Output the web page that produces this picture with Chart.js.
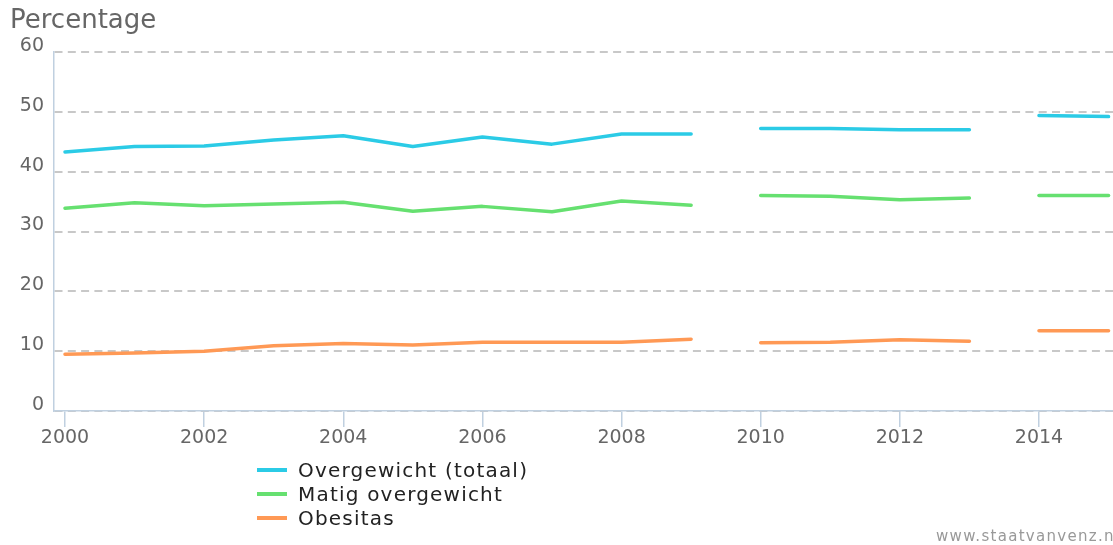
<!DOCTYPE html>
<html>
<head>
<meta charset="utf-8">
<script src="https://cdn.jsdelivr.net/npm/chart.js@4/dist/chart.umd.min.js"></script>
<style>
  html, body { margin: 0; padding: 0; background: #fff; overflow: hidden; }
  #wrap { position: relative; width: 1113px; height: 545px; }
  #legend { position: absolute; left: 257px; top: 458px; font-family: 'DejaVu Sans', sans-serif; font-size: 20px; letter-spacing: 1.2px; color: #222; }
  .row { display: flex; align-items: center; height: 24px; white-space: nowrap; }
  .swatch { width: 30px; height: 3.5px; margin-right: 11px; }
  #credits { position: absolute; left: 936px; top: 527px; font-family: 'DejaVu Sans', sans-serif; font-size: 15px; letter-spacing: 1.3px; color: #999; white-space: nowrap; }
</style>
</head>
<body>
<div id="wrap">
  <canvas id="chart" width="1113" height="545"></canvas>
  <div id="legend"></div>
  <div id="credits">www.staatvanvenz.nl</div>
</div>
<script>
const years = [2000, 2001, 2002, 2003, 2004, 2005, 2006, 2007, 2008, 2009, 2010, 2011, 2012, 2013, 2014, 2015];
const overgewicht = [43.3, 44.2, 44.3, 45.3, 46.0, 44.2, 45.8, 44.6, 46.3, 46.3, 47.2, 47.2, 47.0, 47.0, 49.4, 49.2];
const matigOvergewicht = [33.9, 34.8, 34.3, 34.6, 34.9, 33.4, 34.2, 33.3, 35.1, 34.4, 36.0, 35.9, 35.3, 35.6, 36.0, 36.0];
const obesitas = [9.5, 9.7, 10.0, 10.9, 11.3, 11.05, 11.5, 11.5, 11.5, 12.0, 11.4, 11.5, 11.9, 11.65, 13.4, 13.4];
// the series are interrupted after these years
const breakAfter = [2009, 2013];
const xTicks = [2000, 2002, 2004, 2006, 2008, 2010, 2012, 2014];
const yTicks = [0, 10, 20, 30, 40, 50, 60];

const series = [
    { label: 'Overgewicht (totaal)', values: overgewicht, color: '#2bcbe6' },
    { label: 'Matig overgewicht', values: matigOvergewicht, color: '#66e070' },
    { label: 'Obesitas', values: obesitas, color: '#ff9955' }
];

Chart.defaults.font.family = "'DejaVu Sans', sans-serif";
Chart.defaults.color = '#666';

const axisColor = '#c0d0e0';

new Chart(document.getElementById('chart').getContext('2d'), {
    type: 'line',
    data: {
        datasets: series.map(s => ({
            label: s.label,
            data: years.map((y, i) => ({ x: y, y: s.values[i] })),
            borderColor: s.color,
            borderWidth: 3.5,
            borderCapStyle: 'round',
            borderJoinStyle: 'round',
            pointRadius: 0,
            tension: 0,
            segment: {
                borderColor: ctx => breakAfter.includes(ctx.p0.parsed.x) ? 'rgba(0,0,0,0)' : undefined
            }
        }))
    },
    options: {
        responsive: false,
        animation: false,
        events: [],
        layout: { padding: { left: 10, top: 0, right: 0, bottom: 0 } },
        plugins: {
            legend: { display: false },
            tooltip: { enabled: false },
            title: {
                display: true,
                text: 'Percentage',
                align: 'start',
                color: '#666',
                font: { size: 26, weight: 'normal' },
                padding: { top: 6, bottom: 14.8 }
            }
        },
        scales: {
            x: {
                type: 'linear',
                min: 1999.842,
                max: 2015.064,
                afterBuildTicks: scale => { scale.ticks = xTicks.map(v => ({ value: v })); },
                afterFit: scale => { scale.height = 134; },
                ticks: {
                    callback: v => String(v),
                    color: '#666',
                    font: { size: 19 },
                    padding: 0,
                    maxRotation: 0,
                    autoSkip: false
                },
                grid: { drawOnChartArea: false, drawTicks: true, tickLength: 16, color: axisColor, tickColor: axisColor, lineWidth: 1.5 },
                border: { color: axisColor, width: 1.5 }
            },
            y: {
                min: 0,
                max: 60,
                afterBuildTicks: scale => { scale.ticks = yTicks.map(v => ({ value: v })); },
                afterFit: scale => { scale.width = 44; },
                ticks: {
                    color: '#666',
                    font: { size: 19 },
                    padding: 10,
                    labelOffset: -6
                },
                grid: { drawTicks: false, color: '#c8c8c8', lineWidth: 2 },
                border: { color: axisColor, width: 1.5, dash: [8, 5.3] }
            }
        }
    }
});

// vertical legend under the plot
const legend = document.getElementById('legend');
series.forEach(s => {
    const row = document.createElement('div');
    row.className = 'row';
    const sw = document.createElement('span');
    sw.className = 'swatch';
    sw.style.background = s.color;
    const txt = document.createElement('span');
    txt.textContent = s.label;
    row.appendChild(sw);
    row.appendChild(txt);
    legend.appendChild(row);
});
</script>
</body>
</html>
